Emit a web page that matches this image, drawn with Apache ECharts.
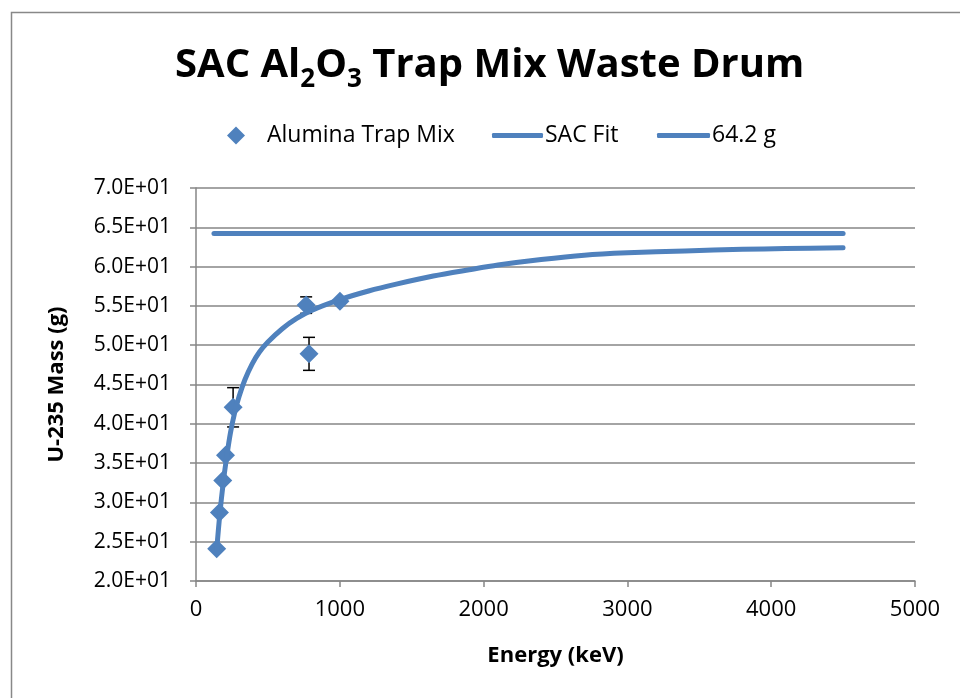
<!DOCTYPE html>
<html>
<head>
<meta charset="utf-8">
<script src="https://cdn.jsdelivr.net/npm/echarts@6/dist/echarts.min.js"></script>
<style>
  html, body { margin: 0; padding: 0; background: #fff; }
  #chart { width: 960px; height: 698px; }
</style>
</head>
<body>
<div id="chart"></div>
<script>
// measured points (keV, g)
const energies = [144, 163, 186, 205, 258, 766, 786, 1001]
const masses = [24.1, 28.7, 32.8, 36.0, 42.1, 55.1, 48.9, 55.6]
const errors = [0, 0, 0, 0, 2.5, 1.05, 2.1, 0]

// SAC fit curve
const fitEnergies = [144, 165, 190, 215, 240, 270, 300, 340, 390, 440, 500, 600, 700, 800, 1000, 1200, 1400, 1650, 1900, 2100, 2400, 2700, 3000, 3400, 3800, 4100, 4500]
const fitMasses = [24.0, 28.4, 32.6, 36.0, 38.9, 41.5, 43.5, 45.6, 47.6, 49.1, 50.4, 52.1, 53.4, 54.4, 55.8, 56.9, 57.8, 58.8, 59.6, 60.2, 60.9, 61.45, 61.75, 62.0, 62.2, 62.3, 62.4]

// 64.2 g reference line
const refEnergies = [125, 4500]
const refMasses = [64.2, 64.2]

const blue = '#4F81BD'
const grey = '#868686'
const font = 'Open Sans'

function sci (v) {
  let exp = Math.floor(Math.log10(Math.abs(v)))
  let man = (v / Math.pow(10, exp)).toFixed(1)
  let sign = exp < 0 ? '-' : '+'
  let e = String(Math.abs(exp)).padStart(2, '0')
  return man + 'E' + sign + e
}

let chart = echarts.init(document.getElementById('chart'))
let legendText = { fontSize: 23, color: '#000', fontFamily: font }
let option = {
  backgroundColor: '#fff',
  animation: false,
  textStyle: { fontFamily: font },
  graphic: [{
    type: 'rect',
    shape: { x: 11.5, y: 12.5, width: 1000, height: 800 },
    style: { fill: 'none', stroke: '#888', lineWidth: 1.5 },
    silent: true
  }],
  title: {
    text: '{t|SAC Al}{s|2}{t|O}{s|3}{t| Trap Mix Waste Drum}',
    left: 170,
    top: 34,
    textStyle: {
      rich: {
        t: { fontFamily: font, fontWeight: 'bold', fontSize: 40, color: '#000' },
        s: { fontFamily: font, fontWeight: 'bold', fontSize: 26, color: '#000', padding: [28, 0, 0, 0] }
      }
    }
  },
  legend: [{
    left: 227,
    top: 124,
    padding: 0,
    icon: 'diamond',
    itemWidth: 18,
    itemHeight: 18,
    textStyle: Object.assign({}, legendText, { padding: [0, 0, 0, 17] }),
    data: ['Alumina Trap Mix']
  }, {
    left: 492,
    top: 124,
    padding: 0,
    icon: 'roundRect',
    itemWidth: 51,
    itemHeight: 5,
    textStyle: Object.assign({}, legendText, { padding: [0, 0, 0, -3] }),
    data: ['SAC Fit']
  }, {
    left: 657,
    top: 124,
    padding: 0,
    icon: 'roundRect',
    itemWidth: 53,
    itemHeight: 5,
    textStyle: Object.assign({}, legendText, { padding: [0, 0, 0, -3] }),
    data: ['64.2 g']
  }],
  grid: {
    left: 196,
    top: 188,
    width: 719,
    height: 393,
    containLabel: false
  },
  xAxis: {
    type: 'value',
    min: 0,
    max: 5000,
    interval: 1000,
    name: 'Energy (keV)',
    nameLocation: 'middle',
    nameGap: 64,
    nameTextStyle: { fontSize: 22, fontWeight: 'bold', color: '#000', fontFamily: font },
    axisLine: { lineStyle: { color: grey, width: 1.5 } },
    axisTick: { show: true, inside: false, length: 6, lineStyle: { color: grey, width: 1.5 } },
    axisLabel: { fontSize: 22, color: '#000', margin: 18, fontFamily: font, formatter: v => String(v) },
    splitLine: { show: false }
  },
  yAxis: {
    type: 'value',
    min: 20,
    max: 70,
    interval: 5,
    name: 'U-235 Mass (g)',
    nameLocation: 'middle',
    nameGap: 128,
    nameRotate: 90,
    nameTextStyle: { fontSize: 22, fontWeight: 'bold', color: '#000', fontFamily: font },
    axisLine: { show: true, lineStyle: { color: grey, width: 1.5 } },
    axisTick: { show: true, inside: false, length: 6, lineStyle: { color: grey, width: 1.5 } },
    axisLabel: { fontSize: 21, color: '#000', margin: 25, fontFamily: font, formatter: sci },
    splitLine: { show: true, lineStyle: { color: grey, width: 1.5 } }
  },
  series: [{
    name: 'error',
    type: 'custom',
    z: 1,
    silent: true,
    data: energies.map((e, i) => [e, masses[i], errors[i]]),
    renderItem: function (params, api) {
      let err = api.value(2)
      if (!err) return null
      let x = api.value(0)
      let y = api.value(1)
      let top = api.coord([x, y + err])
      let bot = api.coord([x, y - err])
      let cap = 6
      let st = { stroke: '#000', lineWidth: 1.5 }
      return {
        type: 'group',
        children: [
          { type: 'line', shape: { x1: top[0], y1: top[1], x2: bot[0], y2: bot[1] }, style: st },
          { type: 'line', shape: { x1: top[0] - cap, y1: top[1], x2: top[0] + cap, y2: top[1] }, style: st },
          { type: 'line', shape: { x1: bot[0] - cap, y1: bot[1], x2: bot[0] + cap, y2: bot[1] }, style: st }
        ]
      }
    }
  }, {
    name: 'Alumina Trap Mix',
    type: 'scatter',
    z: 3,
    symbol: 'diamond',
    symbolSize: 19,
    itemStyle: { color: blue, opacity: 1 },
    data: energies.map((e, i) => [e, masses[i]])
  }, {
    name: 'SAC Fit',
    type: 'line',
    z: 4,
    smooth: 0.3,
    symbol: 'none',
    lineStyle: { color: blue, width: 5, cap: 'round' },
    itemStyle: { color: blue },
    data: fitEnergies.map((e, i) => [e, fitMasses[i]])
  }, {
    name: '64.2 g',
    type: 'line',
    z: 4,
    symbol: 'none',
    lineStyle: { color: blue, width: 5, cap: 'round' },
    itemStyle: { color: blue },
    data: refEnergies.map((e, i) => [e, refMasses[i]])
  }]
}
chart.setOption(option)
</script>
</body>
</html>
